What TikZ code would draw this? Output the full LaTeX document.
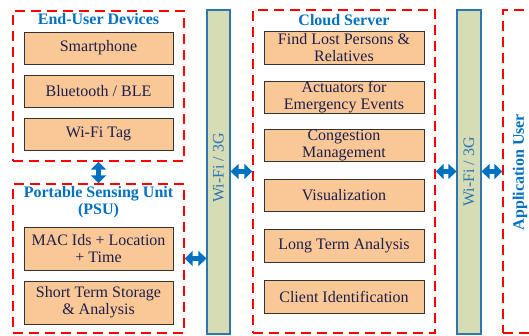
\documentclass[tikz,border=0pt]{standalone}
\usepackage{fontspec}
\setmainfont{Liberation Serif}
\usepackage{xcolor}
\usetikzlibrary{arrows.meta}
\definecolor{titleblue}{RGB}{0,112,192}
\definecolor{boxfill}{RGB}{250,200,150}
\definecolor{boxtext}{RGB}{30,30,75}
\definecolor{linkfill}{RGB}{214,220,180}
\definecolor{linkdraw}{RGB}{46,117,182}

\begin{document}
\begin{tikzpicture}[x=1pt, y=-1pt,
    every node/.style={font=\fontsize{16}{17}\selectfont, inner sep=0pt, align=center},
    group/.style={draw=red, line width=1.4pt, dash pattern=on 10pt off 6pt},
    unit/.style={draw=black!80, line width=1pt, fill=boxfill, text=boxtext},
    link/.style={draw=linkdraw, line width=1.2pt, fill=linkfill, text=linkdraw, minimum width=23pt, minimum height=324pt},
    title/.style={text=titleblue, font=\fontsize{16}{17}\selectfont\bfseries},
    duplex/.style={titleblue, line width=5pt, {Triangle[length=8pt,width=15pt]}-{Triangle[length=8pt,width=15pt]}}]
    \useasboundingbox (0,0) rectangle (529,335);
    \clip (0,0) rectangle (529,335);

    % end-user devices
    \node[group, minimum width=171pt, minimum height=150pt] (devices) at (98.5, 86) {};
    \node[title] (devtitle) at (98.5, 19) {End-User Devices};
    \foreach \y/\txt [count=\i] in {48/Smartphone, 91.5/{Bluetooth / BLE}, 134/Wi-Fi Tag} {
        \node[unit, minimum width=149pt, minimum height=32pt] (d\i) at (98.5, \y) {\txt};
    }

    % portable sensing unit
    \node[group, minimum width=171pt, minimum height=149pt] (psu) at (98.5, 258.5) {};
    \node[title] (psutitle) at (98.5, 202.5) {Portable Sensing Unit\\(PSU)};
    \node[unit, minimum width=149pt, minimum height=43pt] (p1) at (98.5, 248.5) {MAC Ids + Location\\+ Time};
    \node[unit, minimum width=149pt, minimum height=43pt] (p2) at (98.5, 302.5) {Short Term Storage\\\& Analysis};

    % wireless links
    \node[link] (wifiA) at (218.5, 172) {};
    \node[rotate=90, text=linkdraw] (wifiAtext) at (218.5, 168) {Wi-Fi / 3G};
    \node[link, minimum width=24pt] (wifiB) at (469, 172) {};
    \node[rotate=90, text=linkdraw] (wifiBtext) at (469, 172) {Wi-Fi / 3G};

    % cloud server
    \node[group, minimum width=182pt, minimum height=323pt] (cloud) at (344, 171.5) {};
    \node[title] (cloudtitle) at (344, 20) {Cloud Server};
    \foreach \y/\txt [count=\i] in {48/{Find Lost Persons \&\\Relatives}, 97.5/{Actuators for\\Emergency Events},
        145.5/{Congestion\\Management}, 195.5/Visualization, 246/Long Term Analysis, 297/Client Identification} {
        \node[unit, minimum width=160pt, minimum height=32.5pt] (c\i) at (344, \y) {\txt};
    }

    % application user
    \node[group, minimum width=57pt, minimum height=323pt] (app) at (531.5, 171.5) {};
    \node[title, rotate=90] (apptitle) at (520, 172) {Application User};

    % connections
    \draw[duplex] (devices.south) -- (psu.north);
    \draw[duplex] (psu.east) -- (psu.east -| wifiA.west);
    \draw[duplex] (cloud.west -| wifiA.east) -- (cloud.west);
    \draw[duplex] (cloud.east) -- (cloud.east -| wifiB.west);
    \draw[duplex] (app.west -| wifiB.east) -- (app.west);
\end{tikzpicture}
\end{document}
